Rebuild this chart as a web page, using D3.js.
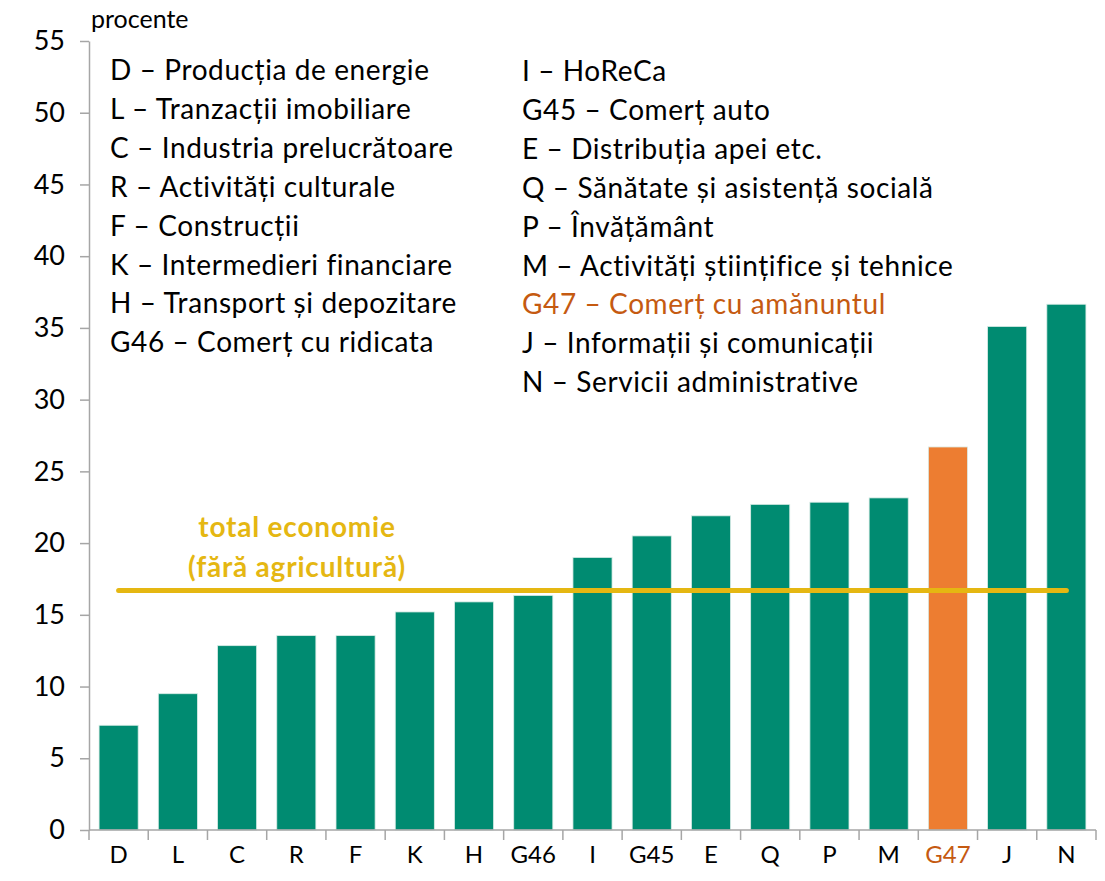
<!DOCTYPE html>
<html>
<head>
<meta charset="utf-8">
<script src="https://cdn.jsdelivr.net/npm/d3@7"></script>
<style>
	body { margin: 0; background: #fff; }
	svg text { font-family: Lato, "Noto Sans", sans-serif; }
	.axis path, .axis line { stroke: #a6a6a6; stroke-width: 1.5; }
</style>
</head>
<body>
<svg id="chart" width="1105" height="881"></svg>
<script>
var categories = ["D", "L", "C", "R", "F", "K", "H", "G46", "I", "G45", "E", "Q", "P", "M", "G47", "J", "N"];
var values = [7.3, 9.5, 12.85, 13.55, 13.55, 15.2, 15.9, 16.35, 19.0, 20.5, 21.9, 22.7, 22.85, 23.15, 26.7, 35.1, 36.65];
var totalEconomy = 16.7;
var yTicks = [0, 5, 10, 15, 20, 25, 30, 35, 40, 45, 50, 55];
var legendLeft = [
	"D – Producția de energie",
	"L – Tranzacții imobiliare",
	"C – Industria prelucrătoare",
	"R – Activități culturale",
	"F – Construcții",
	"K – Intermedieri financiare",
	"H – Transport și depozitare",
	"G46 – Comerț cu ridicata"
];
var legendRight = [
	"I – HoReCa",
	"G45 – Comerț auto",
	"E – Distribuția apei etc.",
	"Q – Sănătate și asistență socială",
	"P – Învățământ",
	"M – Activități științifice și tehnice",
	"G47 – Comerț cu amănuntul",
	"J – Informații și comunicații",
	"N – Servicii administrative"
];
var highlight = "G47";

(function() {
	var green = "#008b71", orange = "#ed7d31", orangeText = "#c55a11", gold = "#e5b712";

	var svg = d3.select("#chart"),
		mLeft = 89, mRight = 1096, mTop = 41, mBottom = 830,
		x = d3.scaleBand().domain(categories).range([mLeft, mRight]).paddingInner(0.34).paddingOuter(0.17),
		y = d3.scaleLinear().domain([0, 55]).range([mBottom, mTop]);

	// bars
	svg.selectAll(".bar")
		.data(categories)
		.enter().append("rect")
		.attr("class", "bar")
		.attr("x", function(d) { return x(d); })
		.attr("width", x.bandwidth())
		.attr("y", function(d, i) { return y(values[i]); })
		.attr("height", function(d, i) { return mBottom - y(values[i]); })
		.attr("fill", function(d) { return d == highlight ? orange : green; })
		.attr("stroke", "#d9ece6")
		.attr("stroke-width", 0.8);

	// y axis
	var yAxis = svg.append("g")
		.attr("class", "axis")
		.attr("transform", "translate(" + mLeft + ",0)")
		.call(d3.axisLeft(y).tickValues(yTicks).tickSize(9).tickPadding(15).tickSizeOuter(0));
	yAxis.selectAll("text")
		.attr("font-size", 27)
		.attr("font-family", "Lato, sans-serif")
		.attr("fill", "#000");

	// x axis, ticks between categories
	var step = x.step();
	var xAxis = svg.append("g").attr("class", "axis");
	xAxis.append("line")
		.attr("x1", mLeft).attr("x2", mRight)
		.attr("y1", mBottom).attr("y2", mBottom);
	xAxis.selectAll(".sep")
		.data(d3.range(categories.length + 1))
		.enter().append("line")
		.attr("x1", function(i) { return mLeft + i * step; })
		.attr("x2", function(i) { return mLeft + i * step; })
		.attr("y1", mBottom).attr("y2", mBottom + 10);
	svg.selectAll(".xlab")
		.data(categories)
		.enter().append("text")
		.attr("x", function(d) { return x(d) + x.bandwidth() / 2; })
		.attr("y", 863)
		.attr("text-anchor", "middle")
		.attr("font-size", 24)
		.attr("fill", function(d) { return d == highlight ? orangeText : "#000"; })
		.text(function(d) { return d; });

	// total economy line
	svg.append("line")
		.attr("x1", x(categories[0]) + x.bandwidth() / 2)
		.attr("x2", x(categories[categories.length - 1]) + x.bandwidth() / 2)
		.attr("y1", y(totalEconomy)).attr("y2", y(totalEconomy))
		.attr("stroke", gold).attr("stroke-width", 5).attr("stroke-linecap", "round");
	svg.append("text")
		.attr("x", 297).attr("y", 537)
		.attr("text-anchor", "middle").attr("font-size", 28).attr("font-weight", "bold")
		.attr("letter-spacing", 0.8)
		.attr("fill", gold).text("total economie");
	svg.append("text")
		.attr("x", 297).attr("y", 577)
		.attr("text-anchor", "middle").attr("font-size", 28).attr("font-weight", "bold")
		.attr("letter-spacing", 0.8)
		.attr("fill", gold).text("(fără agricultură)");

	// unit
	svg.append("text")
		.attr("x", 91).attr("y", 28)
		.attr("font-size", 25).text("procente");

	// legend
	svg.selectAll(".legl")
		.data(legendLeft)
		.enter().append("text")
		.attr("x", 110)
		.attr("y", function(d, i) { return 80 + i * 38.9; })
		.attr("font-size", 28)
		.attr("letter-spacing", 0.6)
		.text(function(d) { return d; });
	svg.selectAll(".legr")
		.data(legendRight)
		.enter().append("text")
		.attr("x", 522)
		.attr("y", function(d, i) { return 81 + i * 38.9; })
		.attr("font-size", 28)
		.attr("letter-spacing", 0.6)
		.attr("fill", function(d) { return d.indexOf(highlight) == 0 ? orangeText : "#000"; })
		.text(function(d) { return d; });
})();
</script>
</body>
</html>
